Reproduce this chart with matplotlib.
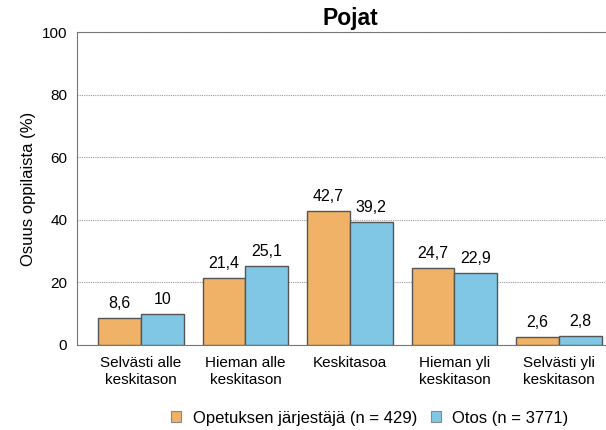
import numpy as np
import matplotlib
matplotlib.use('Agg')
import matplotlib.pyplot as plt

plt.rcParams['font.family'] = ['Liberation Sans', 'DejaVu Sans']

categories = ['Selvästi alle\nkeskitason', 'Hieman alle\nkeskitason', 'Keskitasoa',
              'Hieman yli\nkeskitason', 'Selvästi yli\nkeskitason']
jarjestaja = [8.6, 21.4, 42.7, 24.7, 2.6]
otos = [10, 25.1, 39.2, 22.9, 2.8]
series_names = ['Opetuksen järjestäjä (n = 429)', 'Otos (n = 3771)']
value_labels_1 = ['8,6', '21,4', '42,7', '24,7', '2,6']
value_labels_2 = ['10', '25,1', '39,2', '22,9', '2,8']

fig = plt.figure(figsize=(6.06, 4.30), dpi=100)
ax = fig.add_axes([77 / 606, 1 - 345 / 430, 1 - 77 / 606, (345 - 32) / 430])

x = np.arange(len(categories))
w = 0.41
b1 = ax.bar(x - w / 2, jarjestaja, w, color='#F0B266', edgecolor='#555555', linewidth=1, label=series_names[0], zorder=3)
b2 = ax.bar(x + w / 2, otos, w, color='#80C7E6', edgecolor='#555555', linewidth=1, label=series_names[1], zorder=3)

for rect, lab in zip(b1, value_labels_1):
    ax.annotate(lab, (rect.get_x() + rect.get_width() / 2, rect.get_height()),
                xytext=(0, 5), textcoords='offset points', ha='center', va='bottom', fontsize=11.5)
for rect, lab in zip(b2, value_labels_2):
    ax.annotate(lab, (rect.get_x() + rect.get_width() / 2, rect.get_height()),
                xytext=(0, 5), textcoords='offset points', ha='center', va='bottom', fontsize=11.5)

ax.set_xlim(-0.612, 4.45)
ax.set_ylim(0, 100)
ax.set_yticks([0, 20, 40, 60, 80, 100])
ax.set_xticks(x)
ax.set_xticklabels(categories, fontsize=11, linespacing=1.3)
ax.tick_params(axis='y', labelsize=11, length=0, pad=7)
ax.tick_params(axis='x', length=0, pad=8)
ax.yaxis.grid(True, linestyle=(0, (1, 1)), color='#999999', linewidth=0.8, zorder=0)
for s in ['left', 'bottom', 'top']:
    ax.spines[s].set_color('#777777')
ax.spines['right'].set_visible(False)
ax.set_ylabel('Osuus oppilaista (%)', fontsize=12, labelpad=4)

fig.text(350 / 606, 1 - 19 / 430, 'Pojat', ha='center', va='center', fontsize=16.5, fontweight='bold')

leg = fig.legend(loc='center', bbox_to_anchor=(370 / 606, 1 - 418 / 430), ncol=2, frameon=False,
                 fontsize=12, handlelength=0.6, handleheight=0.6, handletextpad=0.7, columnspacing=0.8)
for h in leg.legend_handles:
    h.set_edgecolor('#888888')
    h.set_linewidth(0.8)

plt.savefig('out.png', dpi=100)
